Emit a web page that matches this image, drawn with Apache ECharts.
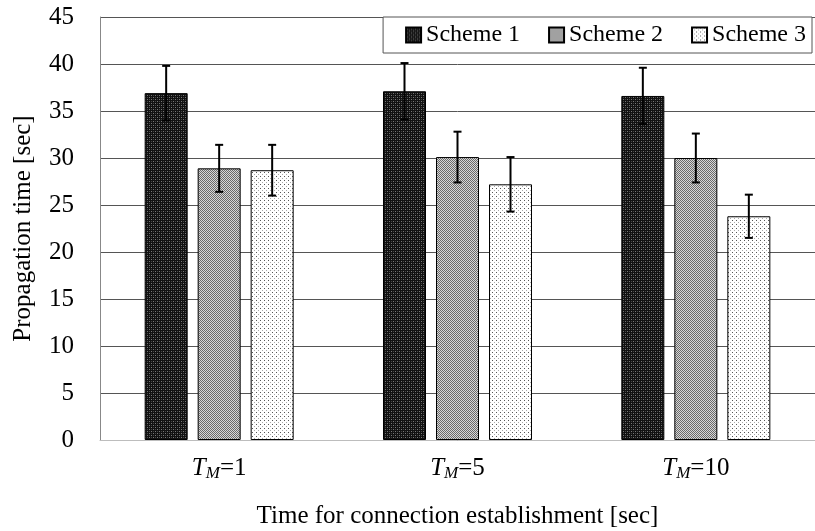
<!DOCTYPE html>
<html><head><meta charset="utf-8">
<script src="https://cdn.jsdelivr.net/npm/echarts@6/dist/echarts.min.js"></script>
<style>html,body{margin:0;padding:0;background:#fff}#c{width:815px;height:531px}</style>
</head><body><div id="c"></div>
<script>
const categories = ['1', '5', '10'];
const seriesNames = ['Scheme 1', 'Scheme 2', 'Scheme 3'];
const scheme1 = [36.9, 37.1, 36.6];
const scheme2 = [28.9, 30.1, 30.0];
const scheme3 = [28.7, 27.2, 23.8];
const err1 = [2.9, 3.0, 3.0];
const err2 = [2.5, 2.7, 2.6];
const err3 = [2.7, 2.9, 2.3];
const yTicks = [0, 5, 10, 15, 20, 25, 30, 35, 40, 45];

function pattern(kind) {
  const c = document.createElement('canvas');
  const n = 4; c.width = n; c.height = n;
  const g = c.getContext('2d');
  if (kind === 0) {
    g.fillStyle = '#111'; g.fillRect(0, 0, n, n);
    g.fillStyle = '#777'; g.fillRect(1, 1, 1, 1); g.fillRect(3, 3, 1, 1);
    g.fillStyle = '#444'; g.fillRect(3, 1, 1, 1); g.fillRect(1, 3, 1, 1);
  } else if (kind === 1) {
    for (let y = 0; y < n; y++) for (let x = 0; x < n; x++) {
      g.fillStyle = ((x + y) % 2 === 0) ? '#6a6a6a' : '#d8d8d8';
      g.fillRect(x, y, 1, 1);
    }
  } else {
    g.fillStyle = '#fff'; g.fillRect(0, 0, n, n);
    g.fillStyle = '#555'; g.fillRect(0, 0, 1, 1);
    g.fillStyle = '#aaa'; g.fillRect(2, 2, 1, 1);
  }
  return { image: c, repeat: 'repeat' };
}

const vals = [scheme1, scheme2, scheme3];
const errs = [err1, err2, err3];
const barW = 43, gap = 10;

const series = [];
vals.forEach((v, i) => {
  series.push({
    name: seriesNames[i], type: 'bar', data: v, barWidth: barW, barGap: (gap / barW * 100) + '%',
    itemStyle: { color: pattern(i), borderColor: '#000', borderWidth: 1 },
    z: 2
  });
});
vals.forEach((v, i) => {
  series.push({
    type: 'custom', name: 'err' + i, z: 5, silent: true,
    data: v.map((val, k) => [k, val - errs[i][k], val + errs[i][k]]),
    renderItem: function (params, api) {
      const k = api.value(0);
      const lo = api.coord([k, api.value(1)]);
      const hi = api.coord([k, api.value(2)]);
      const x = lo[0] + (i - 1) * (barW + gap);
      const cw = 4;
      const st = { stroke: '#000', lineWidth: 2 };
      return { type: 'group', children: [
        { type: 'line', shape: { x1: x, y1: lo[1], x2: x, y2: hi[1] }, style: st },
        { type: 'line', shape: { x1: x - cw, y1: hi[1], x2: x + cw, y2: hi[1] }, style: st },
        { type: 'line', shape: { x1: x - cw, y1: lo[1], x2: x + cw, y2: lo[1] }, style: st }
      ] };
    }
  });
});

const chart = echarts.init(document.getElementById('c'), null, { renderer: 'canvas' });
chart.setOption({
  animation: false,
  textStyle: { fontFamily: 'Liberation Serif' },
  grid: { left: 100, right: 0, top: 17, bottom: 91, containLabel: false, outerBoundsMode: 'none' },
  legend: {
    data: seriesNames, top: 17, right: 3,
    itemWidth: 15, itemHeight: 15, itemGap: 28,
    padding: [6, 6, 6, 22],
    borderColor: '#555', borderWidth: 1, backgroundColor: '#fff',
    textStyle: { fontFamily: 'Liberation Serif', fontSize: 24, color: '#000' },
    icon: 'rect'
  },
  xAxis: {
    type: 'category', data: categories,
    axisLine: { lineStyle: { color: '#bdbdbd', width: 1 } },
    axisTick: { show: false },
    axisLabel: {
      margin: 15, color: '#000',
      formatter: v => '{t|T}{s|M}{n|=' + v + '}',
      rich: {
        t: { fontFamily: 'Liberation Serif', fontStyle: 'italic', fontSize: 25, color: '#000' },
        s: { fontFamily: 'Liberation Serif', fontStyle: 'italic', fontSize: 17, color: '#000', padding: [10, 0, 0, 0] },
        n: { fontFamily: 'Liberation Serif', fontSize: 25, color: '#000' }
      }
    },
    name: 'Time for connection establishment [sec]', nameLocation: 'middle', nameGap: 64,
    nameTextStyle: { fontFamily: 'Liberation Serif', fontSize: 25, color: '#000' }
  },
  yAxis: {
    type: 'value', min: 0, max: 45, interval: 5,
    axisLine: { show: true, lineStyle: { color: '#888', width: 1 } },
    axisTick: { show: false },
    splitLine: { lineStyle: { color: '#555', width: 1 } },
    axisLabel: { color: '#000', fontSize: 25, fontFamily: 'Liberation Serif', margin: 26,
      formatter: v => yTicks.indexOf(v) >= 0 ? String(v) : '' },
    name: 'Propagation time [sec]', nameLocation: 'middle', nameGap: 64, nameRotate: 90,
    nameTextStyle: { fontFamily: 'Liberation Serif', fontSize: 25, color: '#000' }
  },
  series: series
});
</script></body></html>
